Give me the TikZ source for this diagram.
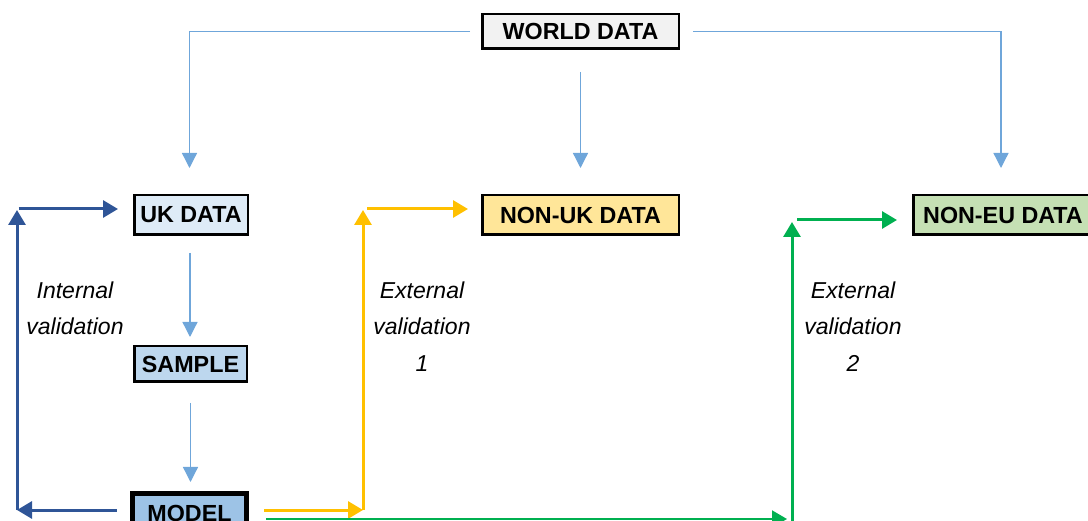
\documentclass[tikz,border=0pt]{standalone}
\usepackage{fontspec}
\setmainfont{Liberation Sans}
\usetikzlibrary{arrows.meta}
\definecolor{thinblue}{HTML}{6FA6DA}
\definecolor{darkblue}{HTML}{2F5597}
\definecolor{yel}{HTML}{FFC000}
\definecolor{grn}{HTML}{00B050}
\definecolor{fworld}{HTML}{F2F2F2}
\definecolor{fuk}{HTML}{DEEBF7}
\definecolor{fsample}{HTML}{BDD7EE}
\definecolor{fmodel}{HTML}{9DC3E6}
\definecolor{fnonuk}{HTML}{FFE699}
\definecolor{fnoneu}{HTML}{C5E0B4}
\begin{document}
\begin{tikzpicture}[x=1pt,y=-1pt,
  box/.style={draw=black, line width=2.5pt, inner sep=0pt,
    font=\fontsize{23.3}{27}\selectfont\bfseries},
  lab/.style={inner sep=0pt, anchor=base, font=\fontsize{23}{27}\selectfont\itshape},
  thinarr/.style={draw=thinblue, line width=1.3pt, -{Triangle[width=15pt,length=15pt]}},
  thickarr/.style={line width=3pt, -{Triangle[width=17pt,length=15pt]}},
]
\useasboundingbox (0,0) rectangle (1088,521);
\clip (0,0) rectangle (1088,521);

\node[box, fill=fworld, minimum width=196.5pt, minimum height=34.5pt] (world) at (580.5,31.5) {WORLD DATA};
\node[box, fill=fuk, minimum width=113.5pt, minimum height=39.5pt] (uk) at (191,215) {UK DATA};
\node[box, fill=fsample, minimum width=112.5pt, minimum height=35.5pt] (sample) at (190.5,364) {SAMPLE};
\node[box, line width=5pt, fill=fmodel, minimum width=114pt, minimum height=39pt] (model) at (189.5,513) {MODEL};
\node[box, fill=fnonuk, minimum width=196.5pt, minimum height=39.5pt] (nonuk) at (580.5,215) {NON-UK DATA};
\node[box, fill=fnoneu, minimum width=179.5pt, minimum height=39.5pt] (noneu) at (1003,215) {NON-EU DATA};

% thin connectors
\draw[thinarr, shorten >=26pt] ([xshift=-11pt]world.west) -| ([xshift=-1.5pt]uk.north);
\draw[thinarr, shorten <=22pt, shorten >=26pt] (world.south) -- (world.south |- nonuk.north);
\draw[thinarr, shorten >=26pt] ([xshift=13pt]world.east) -| ([xshift=-2pt]noneu.north);
\draw[thinarr, shorten <=17pt, shorten >=8pt] ([xshift=-1pt]uk.south) -- ([xshift=-0.5pt]sample.north);
\draw[thinarr, shorten <=20pt, shorten >=9pt] (sample.south) -- (sample.south |- model.north);

% coordinates of the elbow arrows
\coordinate (bl) at (17,510);
\coordinate (tl) at (17,210);
\coordinate (yb) at (363,510);
\coordinate (yt) at (363,210);
\coordinate (gb) at (787,519);
\coordinate (gc) at (792,545);
\coordinate (gt) at (792,222);

% internal validation (dark blue)
\draw[thickarr, draw=darkblue, shorten <=13.5pt] ([yshift=3pt]model.west) -- (bl);
\draw[thickarr, draw=darkblue] (bl) -- (tl);
\draw[thickarr, draw=darkblue, shorten >=15pt] ([xshift=1.5pt,yshift=1pt]tl) -- ([yshift=6pt]uk.west);

% external validation 1 (yellow)
\draw[thickarr, draw=yel, shorten <=15pt] ([yshift=3pt]model.east) -- (yb);
\draw[thickarr, draw=yel] (yb) -- (yt);
\draw[thickarr, draw=yel, shorten >=13pt] ([xshift=4pt,yshift=1pt]yt) -- ([yshift=6pt]nonuk.west);

% external validation 2 (green)
\draw[draw=grn, line width=2pt, -{Triangle[width=17pt,length=15pt]}, shorten <=17pt] ([yshift=-6pt]model.east) -- (gb);
\draw[thickarr, draw=grn] (gc) -- (gt);
\draw[thickarr, draw=grn, shorten >=15pt] ([xshift=5pt,yshift=2pt]gt) -- ([yshift=-5pt]noneu.west);

% labels
\node[lab] (l1a) at (75,299) {Internal};
\node[lab] (l1b) at (75,335) {validation};
\node[lab] (l2a) at (422,299) {External};
\node[lab] (l2b) at (422,335) {validation};
\node[lab] (l2c) at (422,372) {1};
\node[lab] (l3a) at (853,299) {External};
\node[lab] (l3b) at (853,335) {validation};
\node[lab] (l3c) at (853,372) {2};
\end{tikzpicture}
\end{document}
